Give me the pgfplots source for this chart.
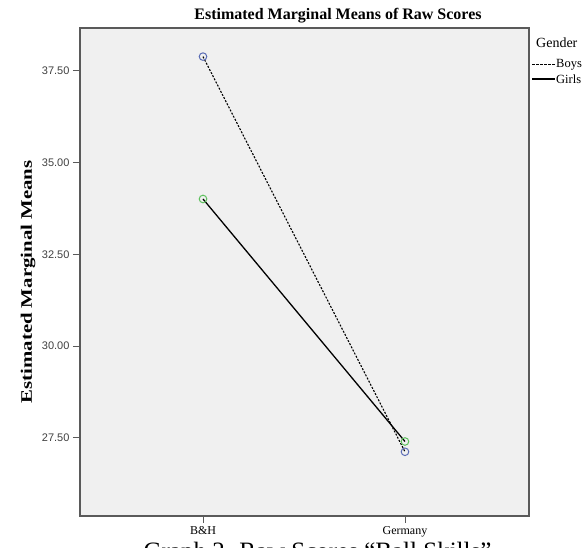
\documentclass[border=0pt]{standalone}
\usepackage{fontspec}
\setmainfont{Liberation Serif}
\newfontfamily\ticksans{Liberation Sans}
\usepackage{graphicx}
\usepackage{pgfplots}
\pgfplotsset{compat=1.18}
\definecolor{plotbg}{HTML}{F0F0F0}
\definecolor{framegray}{HTML}{5A5A5A}
\definecolor{boysblue}{HTML}{5B6DB5}
\definecolor{girlsgreen}{HTML}{5CC05C}
\begin{document}
\begin{tikzpicture}[x=1pt,y=1pt]
\useasboundingbox (0,0) rectangle (587,548);
\begin{axis}[
  at={(80pt,32pt)}, anchor=south west,
  scale only axis, width=449pt, height=488pt,
  xmin=-0.609, xmax=1.614, ymin=25.37, ymax=38.67,
  xtick={0,1}, xticklabels={B\&H, Germany},
  ytick={27.5,30,32.5,35,37.5},
  yticklabel style={font={\fontsize{11}{13}\ticksans}, text=black!75,
    /pgf/number format/fixed, /pgf/number format/precision=2,
    /pgf/number format/fixed zerofill,
    /pgf/number format/assume math mode=true},
  xticklabel style={font={\fontsize{12}{14}\selectfont}},
  tick align=outside, tick pos=left, major tick length=7pt,
  axis line style={framegray, line width=1.1pt},
  tick style={framegray, line width=0.9pt},
  axis background/.style={fill=plotbg},
  ylabel={\scalebox{1.3}[1]{\bfseries Estimated Marginal Means}},
  ylabel style={font={\fontsize{16}{18}\selectfont},
    at={(axis description cs:-0.1158,0.4795)}, anchor=center},
]
\addplot[black, line width=1.1pt, dash pattern=on 2pt off 1.5pt,
  mark=o, mark size=3.8pt,
  mark options={solid, draw=boysblue, line width=1pt}]
  coordinates {(0,37.89) (1,27.12)};
\addplot[black, line width=1.3pt,
  mark=o, mark size=3.8pt,
  mark options={solid, draw=girlsgreen, line width=1pt}]
  coordinates {(0,34.01) (1,27.40)};
\end{axis}
% title
\node[anchor=base, font={\fontsize{16}{18}\selectfont\bfseries}] at (338,528.5)
  {Estimated Marginal Means of Raw Scores};
% legend
\node[anchor=west, inner sep=0pt, font={\fontsize{14}{16}\selectfont}] at (536,505) {Gender};
\draw[black, line width=1pt, dash pattern=on 2.5pt off 1.5pt] (532,483) -- (555,483);
\node[anchor=west, inner sep=1pt, font={\fontsize{12.5}{14}\selectfont}] at (555,483) {Boys};
\draw[black, line width=1.3pt] (532,469) -- (555,469);
\node[anchor=west, inner sep=1pt, font={\fontsize{12.5}{14}\selectfont}] at (555,469) {Girls};
% caption, cut by the page edge as in the reference
\node[anchor=base, font={\fontsize{25}{28}\selectfont}] at (317.5,-12)
  {Graph 2. Raw Scores “Ball Skills”};
\end{tikzpicture}
\end{document}
